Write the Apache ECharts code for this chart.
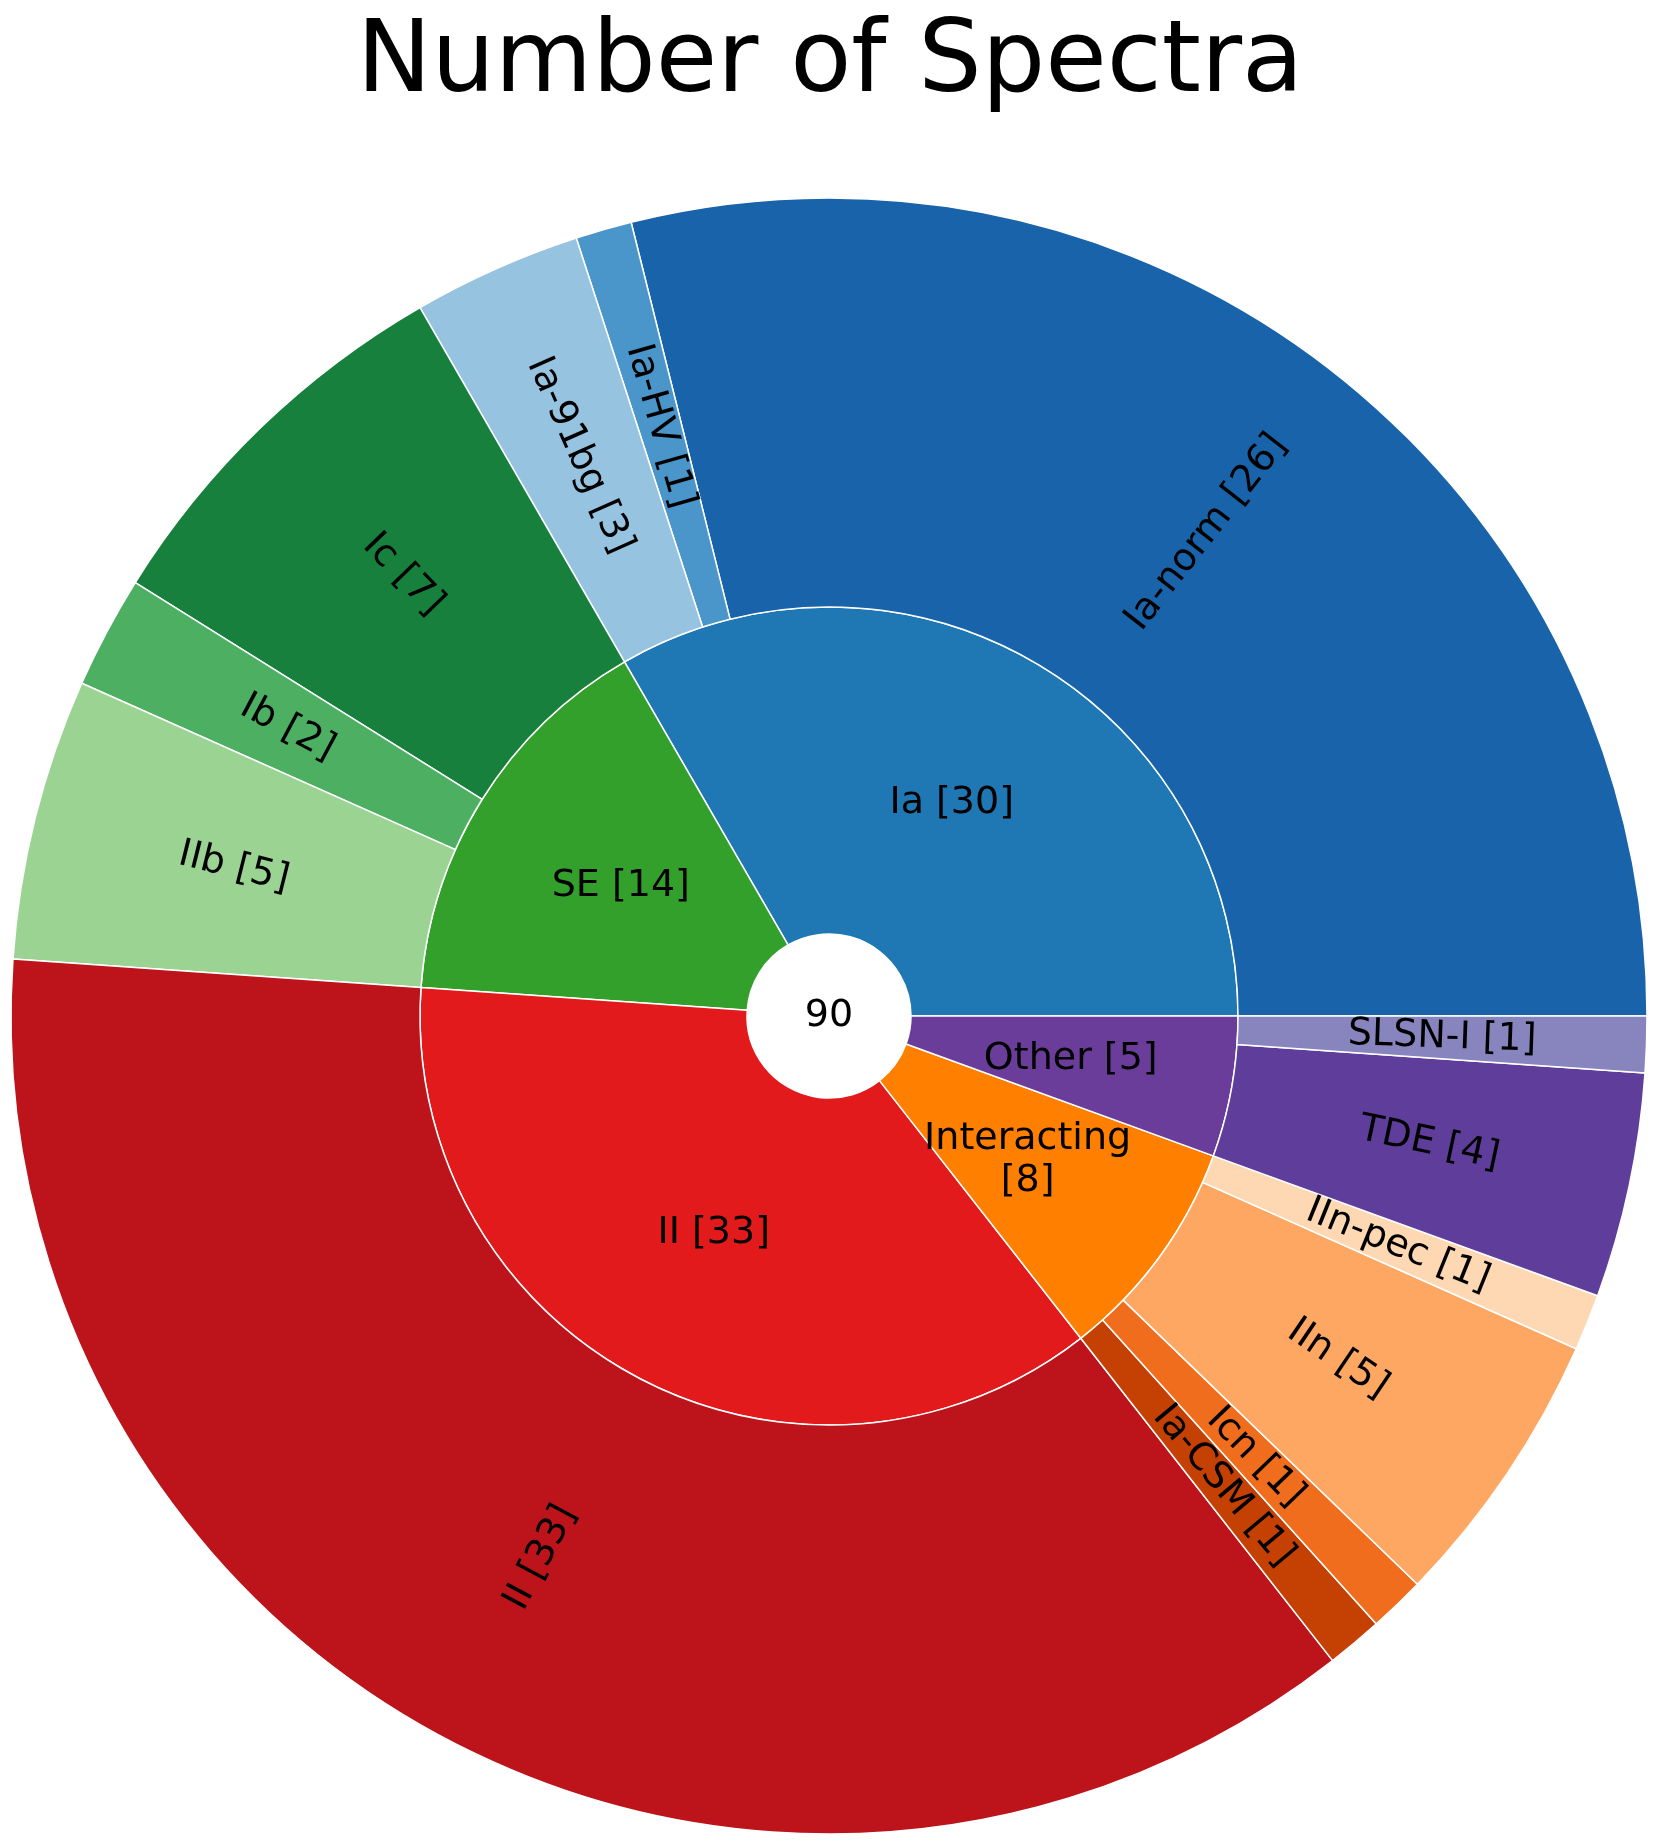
<!DOCTYPE html>
<html>
<head>
<meta charset="utf-8">
<script src="https://cdn.jsdelivr.net/npm/echarts@6/dist/echarts.min.js"></script>
<style>
  html, body { margin: 0; padding: 0; background: #fff; }
  #main { width: 1660px; height: 1848px; }
</style>
</head>
<body>
<div id="main"></div>
<script>
// 每个大类及其子类的光谱数量
var groupNames = ['Ia', 'SE', 'II', 'Interacting', 'Other'];
var groupColors = ['#1f77b4', '#33a02c', '#e31a1c', '#ff7f00', '#6a3d9a'];
var subNames = [
    ['Ia-norm', 'Ia-HV', 'Ia-91bg'],
    ['Ic', 'Ib', 'IIb'],
    ['II'],
    ['Ia-CSM', 'Icn', 'IIn', 'IIn-pec'],
    ['TDE', 'SLSN-I']
];
var subValues = [
    [26, 1, 3],
    [7, 2, 5],
    [33],
    [1, 1, 5, 1],
    [4, 1]
];
var subColors = [
    ['#1863aa', '#4a95c9', '#96c3e0'],
    ['#17803c', '#4daf62', '#9bd393'],
    ['#bc141a'],
    ['#c44103', '#f06d1e', '#fda762', '#fdd8b3'],
    ['#5f3e9b', '#8885be']
];

var fontName = 'DejaVu Sans';
var cx = 829, cy = 1016;
var holeR = 82;

// 组装树形数据
var total = 0;
var children = [];
for (var i = 0; i < groupNames.length; i++) {
    var sub = [];
    for (var j = 0; j < subNames[i].length; j++) {
        sub.push({
            name: subNames[i][j],
            value: subValues[i][j],
            itemStyle: { color: subColors[i][j] }
        });
        total += subValues[i][j];
    }
    children.push({
        name: groupNames[i],
        itemStyle: { color: groupColors[i] },
        children: sub
    });
}

var myChart = echarts.init(document.getElementById('main'));

option = {
    backgroundColor: '#fff',
    animation: false,
    title: {
        text: 'Number of Spectra',
        left: 'center',
        top: 10,
        textStyle: {
            color: '#000',
            fontSize: 100,
            fontWeight: 'normal',
            fontFamily: fontName
        }
    },
    // 中心总数
    graphic: [{
        type: 'text',
        x: cx,
        y: cy,
        z: 100,
        style: {
            text: String(total),
            fill: '#000',
            font: '38px "DejaVu Sans"',
            align: 'center',
            verticalAlign: 'middle'
        }
    }],
    series: [{
        type: 'sunburst',
        center: [cx, cy],
        radius: [holeR, 818],
        startAngle: 0,
        clockwise: false,
        sort: null,
        nodeClick: false,
        data: children,
        itemStyle: {
            borderColor: '#fff',
            borderWidth: 1.5
        },
        label: {
            color: '#000',
            fontSize: 38,
            fontFamily: fontName,
            formatter: function (p) {
                if (p.name.length > 8 && p.treePathInfo.length === 2) {
                    return p.name + '\n[' + p.value + ']';
                }
                return p.name + ' [' + p.value + ']';
            }
        },
        emphasis: { focus: 'none' },
        levels: [
            {},
            {
                r0: holeR, r: 409,
                label: { rotate: 0, lineHeight: 42 }
            },
            {
                r0: 409, r: 818,
                label: { rotate: 'radial' }
            }
        ]
    }]
};

myChart.setOption(option);
</script>
</body>
</html>
